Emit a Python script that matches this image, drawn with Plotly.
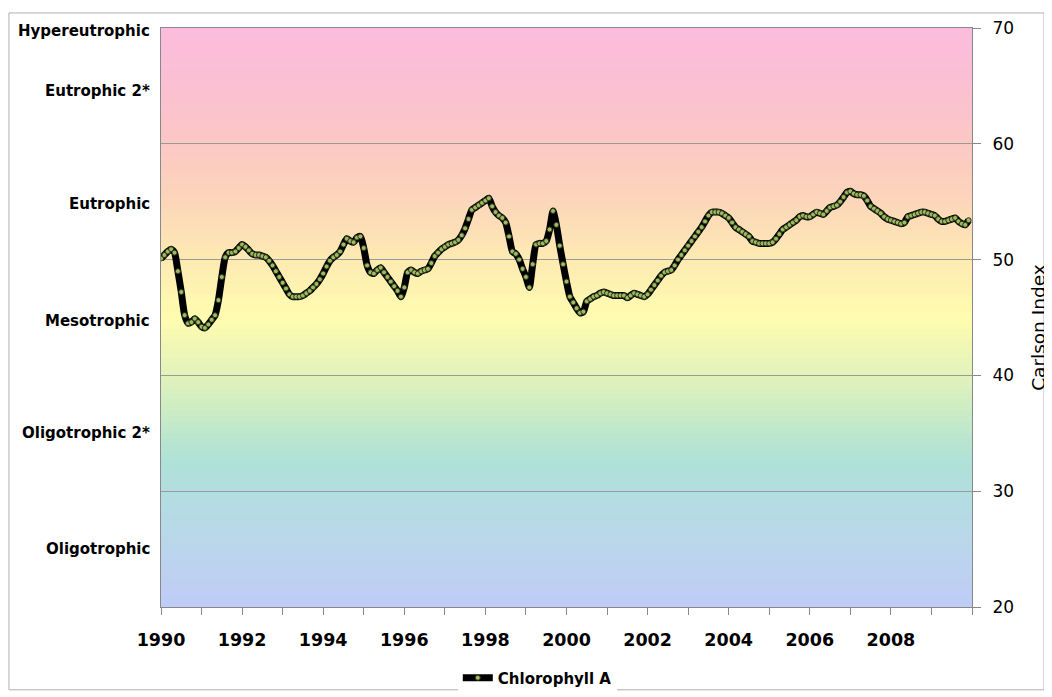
import numpy as np
import plotly.graph_objects as go

# ---------------- data ----------------
start_year = 1990
chl_a = [
    # 1990
    50.1, 50.4, 50.7, 50.9, 50.6, 49.0, 47.2, 45.2, 44.5, 44.6, 44.9, 44.6,
    # 1991
    44.2, 44.1, 44.4, 44.8, 45.2, 46.5, 48.5, 50.2, 50.6, 50.6, 50.7, 51.0,
    # 1992
    51.3, 51.1, 50.8, 50.5, 50.4, 50.4, 50.3, 50.2, 49.9, 49.5, 49.0, 48.5,
    # 1993
    48.0, 47.5, 47.0, 46.8, 46.8, 46.8, 46.9, 47.1, 47.3, 47.6, 47.9, 48.3,
    # 1994
    48.8, 49.4, 49.9, 50.2, 50.4, 50.7, 51.3, 51.8, 51.6, 51.5, 51.9, 52.0,
    # 1995
    51.0, 49.5, 48.9, 48.8, 49.1, 49.3, 48.9, 48.5, 48.1, 47.7, 47.3, 46.8,
    # 1996
    47.6, 48.9, 49.1, 48.9, 48.8, 49.0, 49.1, 49.2, 49.7, 50.3, 50.6, 50.9,
    # 1997
    51.1, 51.3, 51.4, 51.5, 51.7, 52.1, 52.7, 53.5, 54.3, 54.5, 54.7, 54.9,
    # 1998
    55.1, 55.3, 54.6, 54.1, 53.8, 53.6, 53.2, 52.0, 50.7, 50.5, 50.0, 49.2,
    # 1999
    48.5, 47.6, 49.6, 51.3, 51.4, 51.4, 51.6, 52.6, 54.2, 53.0, 51.2, 49.6,
    # 2000
    48.1, 46.8, 46.3, 45.8, 45.4, 45.5, 46.4, 46.6, 46.8, 46.9, 47.1, 47.2,
    # 2001
    47.1, 47.0, 46.9, 46.9, 46.9, 46.9, 46.7, 46.9, 47.1, 47.0, 46.9, 46.8,
    # 2002
    47.0, 47.4, 47.8, 48.2, 48.6, 48.9, 49.0, 49.1, 49.5, 50.0, 50.4, 50.8,
    # 2003
    51.2, 51.6, 52.0, 52.4, 52.8, 53.3, 53.8, 54.1, 54.1, 54.1, 54.0, 53.8,
    # 2004
    53.6, 53.2, 52.8, 52.6, 52.4, 52.2, 52.0, 51.6, 51.5, 51.4, 51.4, 51.4,
    # 2005
    51.4, 51.5, 51.8, 52.2, 52.6, 52.8, 53.0, 53.2, 53.4, 53.7, 53.8, 53.7,
    # 2006
    53.7, 53.9, 54.1, 54.0, 53.9, 54.2, 54.5, 54.6, 54.7, 55.0, 55.4, 55.8,
    # 2007
    55.9, 55.7, 55.6, 55.6, 55.5, 55.1, 54.6, 54.4, 54.2, 54.0, 53.7, 53.5,
    # 2008
    53.4, 53.3, 53.2, 53.1, 53.2, 53.7, 53.8, 53.9, 54.0, 54.1, 54.1, 54.0,
    # 2009
    53.9, 53.8, 53.5, 53.3, 53.3, 53.4, 53.5, 53.6, 53.3, 53.1, 53.0, 53.4,
]
dates = [start_year + i / 12.0 for i in range(len(chl_a))]

state_labels = ["Hypereutrophic", "Eutrophic 2*", "Eutrophic", "Mesotrophic",
                "Oligotrophic 2*", "Oligotrophic"]
state_levels = [69.7, 64.6, 54.8, 44.7, 35.0, 25.0]

x_tick_vals = list(range(1990, 2010, 2))
x_tick_text = [str(v) for v in x_tick_vals]

# background gradient stops (Carlson index value, colour)
grad_stops = [
    (20, (191, 203, 247)),
    (25, (187, 214, 236)),
    (30, (178, 222, 224)),
    (33, (176, 226, 214)),
    (37, (204, 236, 196)),
    (41, (232, 245, 184)),
    (45, (255, 252, 176)),
    (50, (253, 234, 178)),
    (55, (252, 214, 186)),
    (60, (251, 200, 196)),
    (65, (251, 192, 210)),
    (70, (251, 188, 222)),
]

FONT = "DejaVu Sans"

# ---------------- figure ----------------
fig = go.Figure()

fig.add_trace(go.Scatter(
    x=dates, y=chl_a, mode="lines+markers", name="Chlorophyll A",
    line=dict(color="black", width=7, shape="spline", smoothing=0.6),
    marker=dict(size=5, color="#9dbb62", line=dict(color="#2c3318", width=1)),
    hoverinfo="x+y",
))

# gradient bands
def col_at(v):
    for (v0, c0), (v1, c1) in zip(grad_stops[:-1], grad_stops[1:]):
        if v0 <= v <= v1:
            t = (v - v0) / (v1 - v0)
            return tuple(int(round(a + (b - a) * t)) for a, b in zip(c0, c1))
    return grad_stops[-1][1]

shapes = []
edges = np.linspace(20, 70, 101)
for lo, hi in zip(edges[:-1], edges[1:]):
    c = col_at((lo + hi) / 2)
    shapes.append(dict(type="rect", xref="x", yref="y", x0=1990, x1=2010,
                       y0=lo, y1=min(hi + 0.15, 70), layer="below",
                       fillcolor=f"rgb{c}", line=dict(width=0)))
# outer chart border
shapes.append(dict(type="rect", xref="paper", yref="paper",
                   x0=-0.1875, x1=1.0888, y0=-0.143, y1=1.026,
                   line=dict(color="#b0b0b0", width=1), fillcolor="rgba(0,0,0,0)"))

annotations = []
for lab, lv in zip(state_labels, state_levels):
    annotations.append(dict(x=-0.011, xref="paper", y=lv, yref="y", text=lab,
                            showarrow=False, xanchor="right", yanchor="middle",
                            font=dict(family=FONT, size=15, color="black", weight="bold")))
# right axis title
annotations.append(dict(x=1.082, xref="paper", y=0.483, yref="paper", text="Carlson Index",
                        showarrow=False, textangle=-90, xanchor="center", yanchor="middle",
                        font=dict(family=FONT, size=18.5, color="black")))

fig.update_layout(
    width=1052, height=697,
    margin=dict(l=153, r=88, t=20, b=98, autoexpand=False),
    paper_bgcolor="white", plot_bgcolor="white",
    shapes=shapes, annotations=annotations,
    showlegend=True,
    legend=dict(orientation="h", x=0.464, xanchor="center", y=-0.1226, yanchor="middle",
                font=dict(family=FONT, size=15, color="black", weight="bold"),
                itemwidth=30),
    font=dict(family=FONT, color="black"),
)

fig.update_xaxes(
    range=[1990, 2010], tickvals=x_tick_vals, ticktext=x_tick_text,
    ticks="outside", ticklen=7, tickcolor="#888888",
    minor=dict(dtick=1, tick0=1990, ticks="outside", ticklen=7, tickcolor="#888888", showgrid=False),
    showgrid=False, zeroline=False, automargin=False,
    showline=True, linecolor="#888888", linewidth=1, mirror=True,
    tickfont=dict(family=FONT, size=17.5, color="black", weight="bold"),
    ticklabelstandoff=10,
)
fig.update_yaxes(
    range=[20, 70], dtick=10, side="right", automargin=False,
    ticks="outside", ticklen=8, tickcolor="#888888",
    showgrid=True, gridcolor="#9a9a9a", gridwidth=1,
    zeroline=False, showline=True, linecolor="#888888", linewidth=1, mirror=True,
    tickfont=dict(family=FONT, size=17, color="black"),
    ticklabelstandoff=8,
)

fig.write_html("out.html")
